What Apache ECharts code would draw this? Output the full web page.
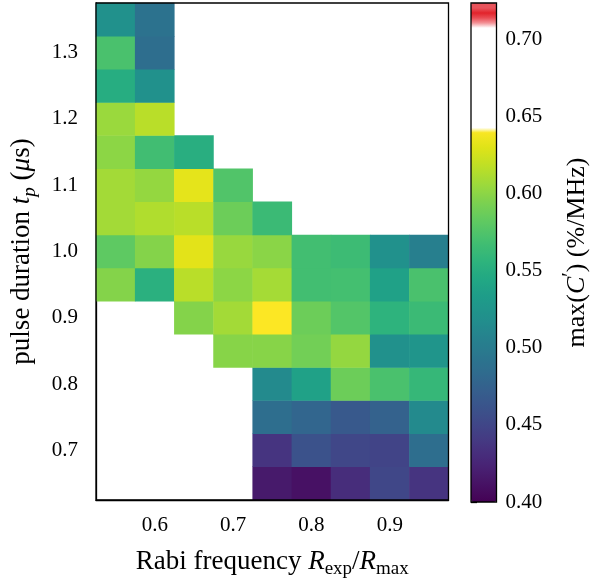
<!DOCTYPE html>
<html>
<head>
<meta charset="utf-8">
<title>max(C′) vs Rabi frequency and pulse duration</title>
<script src="https://cdn.jsdelivr.net/npm/echarts@6/dist/echarts.min.js"></script>
<style>
  html, body { margin: 0; padding: 0; background: #fff; }
  #chart { width: 593px; height: 584px; }
</style>
</head>
<body>
<div id="chart"></div>
<script>
// Rabi frequency R_exp/R_max (columns) and pulse duration t_p in µs (rows)
const rabiFrequency = ['0.55', '0.60', '0.65', '0.70', '0.75', '0.80', '0.85', '0.90', '0.95'];
const pulseDuration = ['0.65', '0.70', '0.75', '0.80', '0.85', '0.90', '0.95', '1.00',
                       '1.05', '1.10', '1.15', '1.20', '1.25', '1.30', '1.35'];

// Tick positions shown on each axis
const xTicks = ['0.60', '0.70', '0.80', '0.90'];
const yTicks = ['0.70', '0.80', '0.90', '1.00', '1.10', '1.20', '1.30'];
const colorbarTicks = [0.40, 0.45, 0.50, 0.55, 0.60, 0.65, 0.70];

// max(C') in %/MHz for each pulse duration, one value per Rabi frequency (null = not measured)
const tp065 = [null, null, null, null, 0.417, 0.411, 0.431, 0.451, 0.436];
const tp070 = [null, null, null, null, 0.436, 0.460, 0.451, 0.448, 0.487];
const tp075 = [null, null, null, null, 0.487, 0.479, 0.467, 0.475, 0.514];
const tp080 = [null, null, null, null, 0.514, 0.538, 0.587, 0.572, 0.561];
const tp085 = [null, null, null, 0.598, 0.598, 0.590, 0.603, 0.521, 0.526];
const tp090 = [null, null, 0.597, 0.608, 0.641, 0.587, 0.576, 0.556, 0.564];
const tp095 = [0.597, 0.553, 0.616, 0.600, 0.609, 0.568, 0.569, 0.538, 0.572];
const tp100 = [0.581, 0.597, 0.631, 0.604, 0.599, 0.568, 0.565, 0.521, 0.504];
const tp105 = [0.608, 0.613, 0.616, 0.587, 0.564, null, null, null, null];
const tp110 = [0.608, 0.603, 0.632, 0.575, null, null, null, null, null];
const tp115 = [0.600, 0.567, 0.551, null, null, null, null, null, null];
const tp120 = [0.605, 0.616, null, null, null, null, null, null, null];
const tp125 = [0.550, 0.521, null, null, null, null, null, null, null];
const tp130 = [0.572, 0.487, null, null, null, null, null, null, null];
const tp135 = [0.521, 0.491, null, null, null, null, null, null, null];

const rows = [tp065, tp070, tp075, tp080, tp085, tp090, tp095, tp100,
              tp105, tp110, tp115, tp120, tp125, tp130, tp135];

// Colour scale: viridis up to viridisTop, white band, then a red cap
const colorMin = 0.40;
const colorMax = 0.7234;
const viridisTop = 0.6416;
const redStart = 0.7084;

const viridis = ['#440154', '#471365', '#482475', '#463480', '#414487', '#3b528b', '#355f8d',
  '#2f6c8e', '#2a788e', '#25848e', '#21918c', '#1e9c89', '#22a884', '#2fb47c', '#44bf70',
  '#5ec962', '#7ad151', '#9bd93c', '#bddf26', '#dfe318', '#fde725'];

function hexToRgb(h) {
  return [parseInt(h.slice(1, 3), 16), parseInt(h.slice(3, 5), 16), parseInt(h.slice(5, 7), 16)];
}
function viridisAt(t) {
  t = Math.max(0, Math.min(1, t));
  const p = t * (viridis.length - 1);
  const i = Math.min(Math.floor(p), viridis.length - 2);
  const f = p - i;
  const a = hexToRgb(viridis[i]), b = hexToRgb(viridis[i + 1]);
  const c = a.map((v, k) => Math.round(v + (b[k] - v) * f));
  return 'rgb(' + c.join(',') + ')';
}
function colorAt(v) {
  if (v <= viridisTop) return viridisAt((v - colorMin) / (viridisTop - colorMin));
  if (v < redStart) return '#ffffff';
  const f = (v - redStart) / (colorMax - redStart);
  if (f < 0.15) return '#f3959a';
  if (f < 0.45) return '#ea4d55';
  if (f < 0.68) return '#e2232b';
  return '#e9545c';
}
const colorStops = [];
for (let i = 0; i < 500; i++) {
  colorStops.push(colorAt(colorMin + (colorMax - colorMin) * i / 499));
}

// Heatmap cells [x index, y index, value]
const cells = [];
rows.forEach((row, yi) => {
  row.forEach((v, xi) => {
    if (v !== null) cells.push([xi, yi, v]);
  });
});

const FONT = '"Liberation Serif", "DejaVu Serif", serif';
const INK = '#000';

const titleRich = (size) => ({
  t: { fontFamily: FONT, fontSize: size, color: INK, lineHeight: 34 },
  i: { fontFamily: FONT, fontSize: size, fontStyle: 'italic', color: INK, lineHeight: 34 },
  s: { fontFamily: FONT, fontSize: Math.round(size * 0.7), color: INK, lineHeight: 18, verticalAlign: 'bottom' },
  si: { fontFamily: FONT, fontSize: Math.round(size * 0.7), fontStyle: 'italic', color: INK, lineHeight: 18, verticalAlign: 'bottom' },
  sup: { fontFamily: FONT, fontSize: Math.round(size * 0.75), color: INK, lineHeight: 19, verticalAlign: 'top' }
});

const chart = echarts.init(document.getElementById('chart'), null, { renderer: 'canvas' });

chart.setOption({
  animation: false,
  backgroundColor: '#fff',
  grid: [
    { left: 96, top: 3, width: 352.5, height: 499, show: true, borderColor: INK, borderWidth: 1.3, z: 10, backgroundColor: 'transparent' },
    { left: 471, top: 3, width: 25.5, height: 499, show: true, borderColor: INK, borderWidth: 1.3, z: 10, backgroundColor: 'transparent' }
  ],
  xAxis: [
    {
      type: 'category',
      gridIndex: 0,
      data: rabiFrequency,
      position: 'bottom',
      axisLine: { lineStyle: { color: INK, width: 1.3 } },
      axisTick: {
        alignWithLabel: true,
        length: 6,
        lineStyle: { color: INK, width: 1.3 },
        interval: (idx, val) => xTicks.includes(val)
      },
      axisLabel: {
        interval: (idx, val) => xTicks.includes(val),
        formatter: (v) => Number(v).toFixed(1),
        fontFamily: FONT, fontSize: 21, color: INK, margin: 15
      },
      splitLine: { show: false },
      name: '{t|Rabi frequency }{i|R}{s|exp}{t|/}{i|R}{s|max}',
      nameLocation: 'middle',
      nameGap: 45,
      nameTextStyle: { rich: titleRich(27) }
    },
    { type: 'value', gridIndex: 1, show: false, min: 0, max: 1 }
  ],
  yAxis: [
    {
      type: 'category',
      gridIndex: 0,
      data: pulseDuration,
      axisLine: { lineStyle: { color: INK, width: 1.3 } },
      axisTick: {
        alignWithLabel: true,
        length: 6,
        lineStyle: { color: INK, width: 1.3 },
        interval: (idx, val) => yTicks.includes(val)
      },
      axisLabel: {
        interval: (idx, val) => yTicks.includes(val),
        formatter: (v) => Number(v).toFixed(1),
        fontFamily: FONT, fontSize: 21, color: INK, margin: 18
      },
      splitLine: { show: false },
      name: '{t|pulse duration }{i|t}{si|p}{t| (}{i|μ}{t|s)}',
      nameLocation: 'middle',
      nameGap: 57,
      nameTextStyle: { rich: titleRich(27) }
    },
    {
      type: 'value',
      gridIndex: 1,
      position: 'right',
      min: colorMin,
      max: colorMax,
      axisLine: { show: false },
      axisTick: {
        show: true,
        length: 6,
        customValues: colorbarTicks,
        lineStyle: { color: INK, width: 1.3 }
      },
      axisLabel: {
        customValues: colorbarTicks,
        formatter: (v) => v.toFixed(2),
        fontFamily: FONT, fontSize: 21, color: INK, margin: 9
      },
      splitLine: { show: false },
      name: '{t|max(}{i|C}{sup|′}{t|) (%/MHz)}',
      nameLocation: 'middle',
      nameRotate: 90,
      nameGap: 64,
      nameTextStyle: { rich: titleRich(26) }
    }
  ],
  visualMap: {
    type: 'continuous',
    seriesIndex: 0,
    dimension: 2,
    min: colorMin,
    max: colorMax,
    calculable: false,
    orient: 'vertical',
    left: 471,
    top: 3,
    itemWidth: 25.5,
    itemHeight: 499,
    padding: 0,
    text: null,
    inRange: { color: colorStops }
  },
  series: [
    {
      type: 'heatmap',
      xAxisIndex: 0,
      yAxisIndex: 0,
      data: cells,
      label: { show: false },
      emphasis: { disabled: true }
    }
  ]
});
</script>
</body>
</html>
